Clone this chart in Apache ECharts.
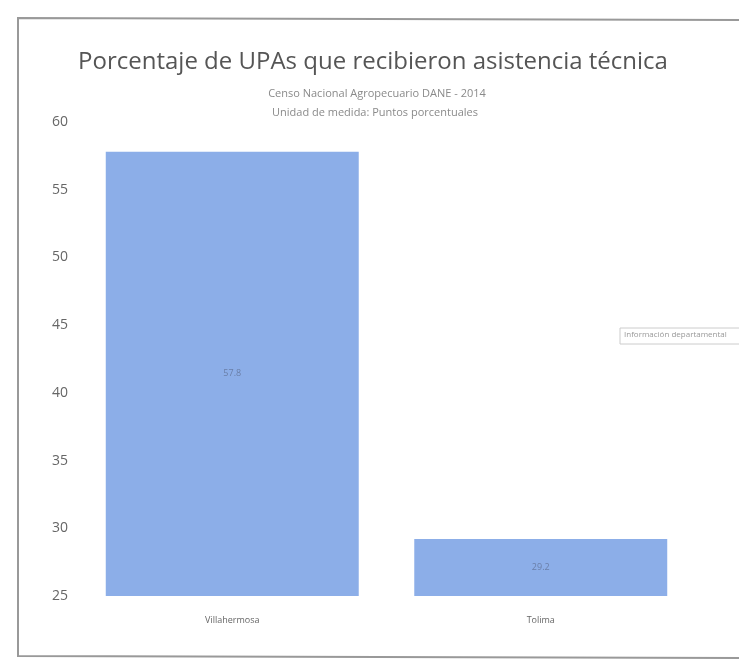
<!DOCTYPE html>
<html><head><meta charset="utf-8">
<script src="https://cdn.jsdelivr.net/npm/echarts@6/dist/echarts.min.js"></script>
<style>html,body{margin:0;padding:0;background:#fff}#c{width:739px;height:663px}</style>
</head><body><div id="c"></div>
<script>
const categories = ['Villahermosa', 'Tolima'];
const values = [57.8, 29.2];
const yTicks = [25, 30, 35, 40, 45, 50, 55, 60];

const chart = echarts.init(document.getElementById('c'));
chart.setOption({
  backgroundColor: '#fff',
  animation: false,
  title: [
    { text: 'Porcentaje de UPAs que recibieron asistencia técnica', left: 368, top: 45, textAlign: 'center',
      textStyle: { fontFamily: 'Open Sans', fontSize: 24, fontWeight: 'normal', color: '#555' } },
    { text: 'Censo Nacional Agropecuario DANE - 2014', left: 372, top: 83, textAlign: 'center',
      textStyle: { fontFamily: 'Open Sans', fontSize: 11, fontWeight: 'normal', color: '#8a8a8a' } },
    { text: 'Unidad de medida: Puntos porcentuales', left: 370, top: 102, textAlign: 'center',
      textStyle: { fontFamily: 'Open Sans', fontSize: 11, fontWeight: 'normal', color: '#8a8a8a' } }
  ],
  graphic: [
    { type: 'polyline', shape: { points: [[760, 20], [18, 18], [18, 656], [760, 658]] },
      style: { stroke: '#999', lineWidth: 2, fill: null } },
    { type: 'rect', shape: { x: 620, y: 328, width: 130, height: 16 },
      style: { fill: '#fff', stroke: '#ccc', lineWidth: 1 } },
    { type: 'text', x: 624, y: 331, style: { text: 'Información departamental', fontSize: 8, fill: '#999', fontFamily: 'Open Sans' } }
  ],
  grid: { left: 78, right: 44, top: 122, bottom: 67 },
  xAxis: {
    type: 'category', data: categories,
    axisLine: { show: false }, axisTick: { show: false },
    axisLabel: { fontFamily: 'Open Sans', fontSize: 9, color: '#666', margin: 20 }
  },
  yAxis: {
    type: 'value', min: yTicks[0], max: yTicks[yTicks.length - 1], interval: 5,
    splitLine: { show: false }, axisLine: { show: false }, axisTick: { show: false },
    axisLabel: { fontFamily: 'Open Sans', fontSize: 14, color: '#666', margin: 10 }
  },
  series: [{
    type: 'bar', data: values, barCategoryGap: '18%',
    itemStyle: { color: '#8CAEE8' },
    label: { show: true, position: 'inside', fontSize: 9, color: '#6a7fa8', fontFamily: 'Open Sans',
      formatter: p => p.value.toFixed(1) }
  }]
});
</script></body></html>
